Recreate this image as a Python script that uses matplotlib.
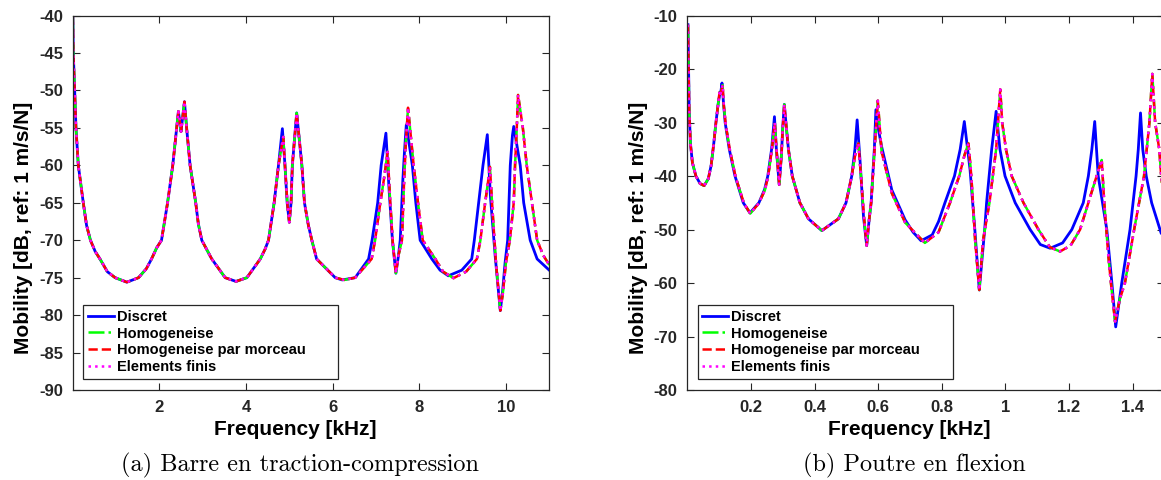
import matplotlib
matplotlib.use('Agg')
import matplotlib.pyplot as plt

plt.rcParams['font.family'] = ['Liberation Sans', 'DejaVu Sans']
plt.rcParams['font.weight'] = 'bold'
plt.rcParams['axes.unicode_minus'] = False

# (a) bar in traction-compression, frequency [kHz] / mobility [dB]
bar_f_disc = [0.004, 0.014, 0.046, 0.076, 0.13, 0.245, 0.32, 0.41, 0.52, 0.63, 0.80, 0.98, 1.25,
              1.52, 1.70, 1.82, 1.94, 2.05, 2.19, 2.31, 2.40, 2.44, 2.47, 2.50, 2.53, 2.58,
              2.63, 2.71, 2.84, 2.90, 2.98, 3.21, 3.52, 3.77, 4.02, 4.33, 4.44, 4.52, 4.65,
              4.75, 4.84, 4.90, 4.95, 5.00, 5.04, 5.07, 5.17, 5.29, 5.35, 5.44, 5.52, 5.63,
              6.06, 6.22, 6.52, 6.83, 6.91, 7.04, 7.12, 7.23, 7.30, 7.38, 7.46, 7.52, 7.56,
              7.62, 7.66, 7.70, 7.84, 7.92, 8.02, 8.29, 8.48, 8.67, 8.98, 9.21, 9.27, 9.37,
              9.47, 9.57, 9.64, 9.75, 9.83, 9.87, 9.92, 9.98, 10.04, 10.10, 10.15, 10.18,
              10.33, 10.41, 10.56, 10.72, 11.0]
bar_db_disc = [-40.0, -45.0, -50.0, -55.0, -60.0, -65.0, -68.0, -70.0, -71.5, -72.5, -74.2,
               -75.0, -75.6, -75.0, -73.8, -72.5, -71.0, -70.0, -65.0, -60.0, -55.0, -52.8,
               -54.0, -55.5, -54.0, -51.5, -55.0, -60.0, -65.0, -67.8, -70.0, -72.5, -75.0,
               -75.5, -75.0, -72.5, -71.2, -70.0, -65.0, -60.0, -55.1, -60.0, -65.0, -67.6,
               -65.0, -60.0, -53.0, -60.0, -65.0, -68.0, -70.0, -72.5, -75.0, -75.3, -75.0,
               -72.5, -70.0, -65.0, -60.0, -55.7, -63.0, -70.0, -74.4, -72.0, -70.0, -62.0,
               -58.0, -54.6, -60.0, -65.0, -70.0, -72.5, -74.0, -74.75, -74.0, -72.5, -70.0,
               -65.0, -60.0, -55.9, -64.0, -72.0, -77.0, -79.4, -77.0, -73.0, -70.0, -60.0,
               -56.0, -54.8, -60.0, -65.0, -70.0, -72.5, -74.0]

bar_f_hom = [0.004, 0.014, 0.046, 0.076, 0.13, 0.245, 0.32, 0.41, 0.52, 0.63, 0.80, 0.98, 1.25,
             1.52, 1.70, 1.82, 1.94, 2.05, 2.19, 2.31, 2.40, 2.44, 2.47, 2.50, 2.53, 2.58,
             2.63, 2.71, 2.84, 2.90, 2.98, 3.21, 3.52, 3.77, 4.02, 4.33, 4.44, 4.52, 4.65,
             4.75, 4.86, 4.91, 4.96, 5.00, 5.04, 5.07, 5.17, 5.29, 5.35, 5.44, 5.52, 5.63,
             6.06, 6.27, 6.52, 6.90, 6.98, 7.10, 7.18, 7.27, 7.32, 7.39, 7.46, 7.52, 7.60,
             7.65, 7.69, 7.74, 7.87, 7.97, 8.08, 8.37, 8.55, 8.79, 9.08, 9.33, 9.41, 9.52,
             9.58, 9.63, 9.69, 9.77, 9.84, 9.87, 9.93, 10.00, 10.09, 10.18, 10.21, 10.25,
             10.28, 10.39, 10.48, 10.60, 10.72, 10.86, 11.0]
bar_db_hom = [-40.0, -45.0, -50.0, -55.0, -60.0, -65.0, -68.0, -70.0, -71.5, -72.5, -74.2,
              -75.0, -75.6, -75.0, -73.8, -72.5, -71.0, -70.0, -65.0, -60.0, -55.0, -52.8,
              -54.0, -55.5, -54.0, -51.5, -55.0, -60.0, -65.0, -67.8, -70.0, -72.5, -75.0,
              -75.5, -75.0, -72.5, -71.2, -70.0, -65.0, -60.0, -56.2, -61.0, -65.5, -67.6,
              -65.0, -60.0, -53.0, -60.0, -65.0, -68.0, -70.0, -72.5, -75.0, -75.3, -75.0,
              -72.5, -70.0, -65.0, -62.0, -58.2, -64.0, -70.5, -74.4, -72.0, -70.0, -62.0,
              -57.0, -52.3, -60.0, -65.0, -70.0, -72.5, -74.2, -75.06, -74.2, -72.5, -70.0,
              -65.0, -62.5, -60.2, -66.0, -73.0, -77.5, -79.4, -77.0, -73.0, -70.0, -65.0,
              -60.0, -55.0, -50.6, -55.0, -60.0, -65.0, -70.0, -72.0, -73.3]

# (b) beam in bending
beam_f_disc = [0.002, 0.004, 0.006, 0.010, 0.016, 0.027, 0.040, 0.053, 0.066, 0.075, 0.083,
               0.090, 0.097, 0.103, 0.105, 0.109, 0.114, 0.119, 0.132, 0.150, 0.176, 0.197,
               0.225, 0.243, 0.253, 0.265, 0.274, 0.280, 0.289, 0.296, 0.300, 0.305, 0.310,
               0.318, 0.330, 0.354, 0.381, 0.423, 0.475, 0.499, 0.517, 0.527, 0.534, 0.543,
               0.554, 0.564, 0.572, 0.578, 0.588, 0.593, 0.600, 0.611, 0.643, 0.685, 0.710,
               0.735, 0.770, 0.790, 0.810, 0.840, 0.858, 0.871, 0.889, 0.904, 0.918, 0.935,
               0.941, 0.957, 0.971, 0.983, 0.999, 1.031, 1.078, 1.110, 1.141, 1.180, 1.209,
               1.245, 1.261, 1.272, 1.281, 1.292, 1.319, 1.335, 1.347, 1.366, 1.392, 1.411,
               1.418, 1.425, 1.432, 1.443, 1.460, 1.490, 1.500]
beam_db_disc = [-11.7, -20.0, -28.0, -34.0, -37.5, -40.0, -41.4, -41.8, -40.5, -38.0, -34.0,
                -30.0, -26.5, -24.3, -24.5, -22.6, -26.5, -30.0, -35.0, -40.0, -45.0, -46.9,
                -45.0, -42.5, -40.0, -35.0, -28.9, -35.0, -41.6, -36.0, -31.0, -26.6, -30.0,
                -35.0, -40.0, -45.0, -48.0, -50.2, -48.0, -45.0, -40.0, -35.0, -29.5, -37.0,
                -47.6, -53.0, -48.0, -45.0, -35.0, -27.6, -31.0, -34.5, -42.6, -48.2, -50.5,
                -52.1, -51.0, -48.5, -45.0, -40.0, -35.0, -29.8, -38.8, -50.0, -61.3, -50.0,
                -45.0, -35.0, -27.9, -35.0, -40.0, -45.0, -50.0, -52.8, -53.5, -52.5, -50.0,
                -45.0, -40.0, -35.0, -29.8, -40.0, -50.0, -60.0, -68.2, -60.0, -50.0, -40.0,
                -35.0, -28.2, -35.0, -40.0, -45.0, -50.7, -51.2]

beam_f_hom = [0.002, 0.004, 0.006, 0.010, 0.016, 0.027, 0.040, 0.053, 0.066, 0.075, 0.083,
              0.090, 0.097, 0.102, 0.105, 0.111, 0.115, 0.121, 0.134, 0.152, 0.178, 0.198,
              0.225, 0.244, 0.254, 0.266, 0.275, 0.281, 0.289, 0.296, 0.300, 0.305, 0.310,
              0.318, 0.330, 0.354, 0.381, 0.423, 0.475, 0.499, 0.517, 0.528, 0.538, 0.546,
              0.556, 0.564, 0.572, 0.578, 0.590, 0.599, 0.604, 0.611, 0.643, 0.685, 0.747,
              0.790, 0.826, 0.855, 0.872, 0.884, 0.893, 0.905, 0.918, 0.930, 0.950, 0.971,
              0.978, 0.984, 0.990, 1.002, 1.020, 1.057, 1.104, 1.140, 1.172, 1.205, 1.235,
              1.261, 1.287, 1.303, 1.311, 1.324, 1.332, 1.345, 1.360, 1.376, 1.405, 1.436,
              1.453, 1.462, 1.471, 1.484, 1.490, 1.500]
beam_db_hom = [-11.7, -20.0, -28.0, -34.0, -37.5, -40.0, -41.4, -41.8, -40.5, -38.0, -34.0,
               -30.0, -26.5, -24.0, -24.6, -23.0, -27.0, -30.5, -35.2, -40.2, -45.1, -47.0,
               -45.1, -42.6, -40.1, -35.0, -30.0, -35.5, -41.6, -36.0, -31.0, -26.6, -30.0,
               -35.0, -40.0, -45.0, -48.0, -50.2, -48.0, -45.0, -40.0, -36.0, -33.9, -40.0,
               -48.0, -53.0, -48.0, -45.0, -34.0, -25.9, -30.0, -35.5, -43.2, -48.7, -52.5,
               -50.5, -45.0, -40.0, -36.0, -33.9, -40.0, -52.0, -61.3, -52.0, -45.0, -35.0,
               -29.0, -23.8, -30.0, -35.0, -40.0, -45.0, -50.0, -53.3, -54.1, -53.0, -50.0,
               -45.0, -40.0, -37.0, -45.0, -55.0, -60.0, -67.2, -63.0, -60.0, -50.0, -40.0,
               -30.0, -20.9, -30.0, -35.0, -40.0, -45.0]

labels = ['Discret', 'Homogeneise', 'Homogeneise par morceau', 'Elements finis']


def draw(ax, f_disc, db_disc, f_hom, db_hom):
    ax.plot(f_disc, db_disc, color='#0000ff', lw=2.0, label=labels[0])
    ax.plot(f_hom, db_hom, color='#00ff00', lw=1.8, ls='-.', label=labels[1])
    ax.plot(f_hom, db_hom, color='#ff0000', lw=1.8, ls='--', label=labels[2])
    ax.plot(f_hom, db_hom, color='#ff00ff', lw=1.8, ls=':', label=labels[3])
    ax.tick_params(direction='in', top=True, right=True, length=5, width=0.8,
                   labelsize=12, colors='#262626', pad=7)
    for s in ax.spines.values():
        s.set_color('#262626')
        s.set_linewidth(0.9)
    ax.set_xlabel('Frequency [kHz]', fontsize=15, fontweight='bold')
    ax.set_ylabel('Mobility [dB, ref: 1 m/s/N]', fontsize=15, fontweight='bold')
    ax.xaxis.set_label_coords(0.466, -0.080)
    ax.yaxis.set_label_coords(-0.0825, 0.434)
    leg = ax.legend(loc='lower left', bbox_to_anchor=(0.022, 0.03, 0.535, 0.2), mode='expand',
                    borderaxespad=0, fontsize=10.5, handlelength=1.8, handletextpad=0.2,
                    labelspacing=0.2, borderpad=0.3, fancybox=False, framealpha=1)
    leg.get_frame().set_edgecolor('#262626')
    leg.get_frame().set_linewidth(0.9)


fig = plt.figure(figsize=(11.61, 4.8), dpi=100)

ax1 = fig.add_axes([0.0626, 0.1875, 0.4105, 0.780])
draw(ax1, bar_f_disc, bar_db_disc, bar_f_hom, bar_db_hom)
ax1.set_xlim(0, 11)
ax1.set_ylim(-90, -40)
ax1.set_xticks([2, 4, 6, 8, 10])
ax1.set_yticks(range(-90, -39, 5))

ax2 = fig.add_axes([0.592, 0.1875, 0.4109, 0.780])
draw(ax2, beam_f_disc, beam_db_disc, beam_f_hom, beam_db_hom)
ax2.set_xlim(0, 1.5)
ax2.set_ylim(-80, -10)
ax2.set_xticks([0.2, 0.4, 0.6, 0.8, 1.0, 1.2, 1.4])
ax2.set_xticklabels(['0.2', '0.4', '0.6', '0.8', '1', '1.2', '1.4'])
ax2.set_yticks(range(-80, -9, 10))

fig.text(0.2584, 0.031, '(a) Barre en traction-compression', ha='center', va='center',
         family='cmr10', fontweight='normal', fontsize=17.5)
fig.text(0.7877, 0.031, '(b) Poutre en flexion', ha='center', va='center',
         family='cmr10', fontweight='normal', fontsize=17.5)

fig.savefig('out.png', dpi=100)
